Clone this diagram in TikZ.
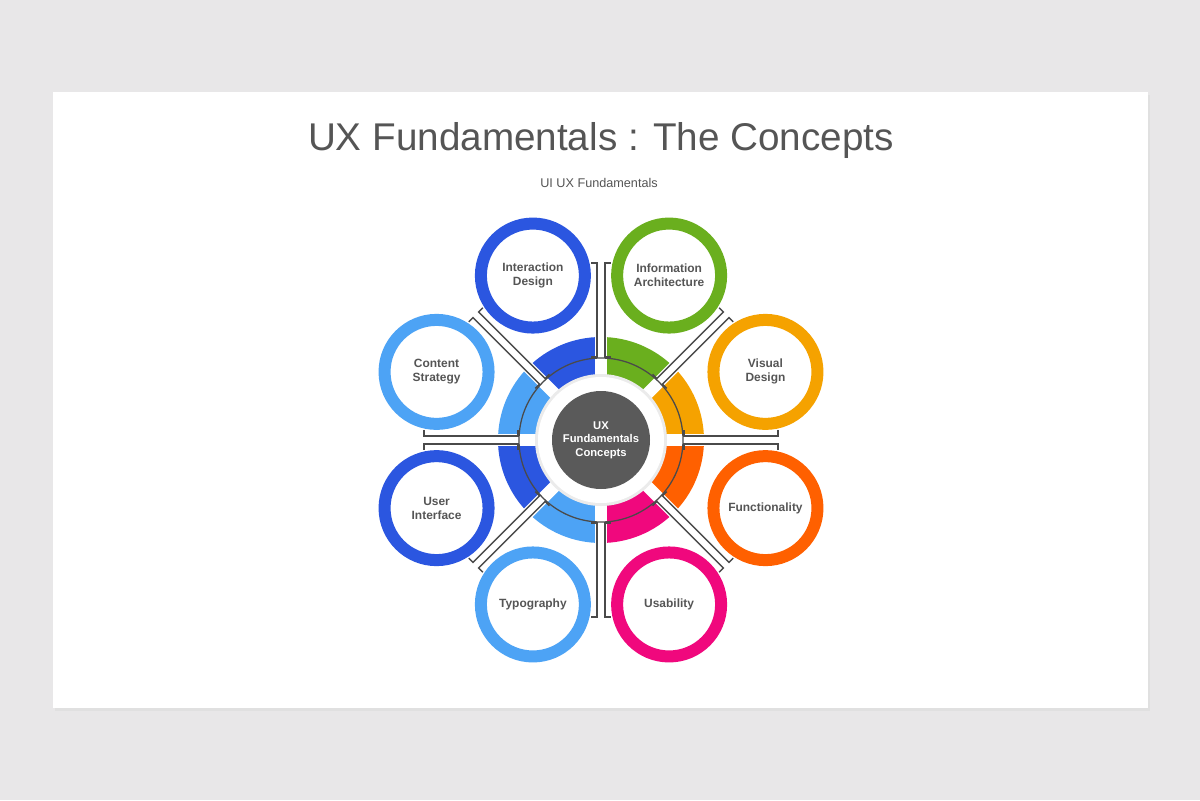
\documentclass[tikz,border=0pt]{standalone}
\usepackage{fontspec}
\setmainfont{Liberation Sans}
\definecolor{bgGray}{HTML}{E8E7E8}
\definecolor{txtGray}{HTML}{555555}
\definecolor{lineGray}{HTML}{4A4A4A}
\definecolor{hubGray}{HTML}{5A5A5A}
\definecolor{cBlue}{HTML}{2B56E0}
\definecolor{cSky}{HTML}{4DA3F5}
\definecolor{cGreen}{HTML}{6AAF1E}
\definecolor{cAmber}{HTML}{F5A200}
\definecolor{cOrange}{HTML}{FF6000}
\definecolor{cPink}{HTML}{F0087D}
\tikzset{
  ringnode/.style={line width=6mm},
  ringlabel/.style={font=\fontsize{17}{20}\selectfont\bfseries, text=txtGray, align=center},
  bracketline/.style={draw=lineGray, line width=2pt}
}
\begin{document}
\begin{tikzpicture}[x=0.5mm, y=-0.5mm]
    % Slide background and card
    \fill[bgGray] (0,0) rectangle (1200,800);
    \useasboundingbox (0,0) rectangle (1200,800);
    \fill[black!12] (55,95) rectangle (1150,711);
    \fill[white] (53,92) rectangle (1148,708);

    % Titles
    \node[text=txtGray, font=\fontsize{55}{60}\selectfont] (title) at (601,140) {UX Fundamentals : The Concepts};
    \node[text=txtGray, font=\fontsize{18}{22}\selectfont] (subtitle) at (599,183) {UI UX Fundamentals};

    \begin{scope}[shift={(601,440)}, yscale=-1]
        % Coloured sectors
        \foreach \a/\c in {0/cAmber, 45/cGreen, 90/cBlue, 135/cSky,
                           180/cBlue, 225/cSky, 270/cPink, 315/cOrange} {
            \fill[\c] (\a:60) -- (\a:103) arc[start angle=\a, end angle=\a+45, radius=103]
                -- (\a+45:60) arc[start angle=\a+45, end angle=\a, radius=60] -- cycle;
        }
        % Gaps between sectors
        \foreach \a in {0,45,...,315} {
            \draw[white, line width=6mm] (0,0) -- (\a:108);
        }
        \draw[lineGray, line width=1.8pt] (0,0) circle[radius=82];

        % Double bracket connectors
        \foreach \a in {0,45,...,315} {
            \begin{scope}[rotate=\a]
                \draw[bracketline] (83,10) -- (83,4) -- (177,4) -- (177,10);
                \draw[bracketline] (83,-10) -- (83,-4) -- (177,-4) -- (177,-10);
            \end{scope}
        }

        % Hub
        \fill[black!8] (0,0) circle[radius=66];
        \fill[white] (0,0) circle[radius=63];
        \node[circle, fill=hubGray, minimum size=49mm, text=white, align=center,
              font=\fontsize{16}{19}\selectfont\bfseries] (hub) at (0,0) {UX\\Fundamentals\\Concepts};

        % Outer rings
        \foreach \a/\c/\t [count=\i] in {
            112.5/cBlue/{Interaction\\Design},
            67.5/cGreen/{Information\\Architecture},
            22.5/cAmber/{Visual\\Design},
            -22.5/cOrange/{Functionality},
            -67.5/cPink/{Usability},
            -112.5/cSky/{Typography},
            -157.5/cBlue/{User\\Interface},
            157.5/cSky/{Content\\Strategy}} {
            \fill[white] (\a:178) circle[radius=58];
            \draw[\c, ringnode] (\a:178) circle[radius=52];
            \node[ringlabel] (ring\i) at (\a:178) {\t};
        }
    \end{scope}
\end{tikzpicture}
\end{document}
